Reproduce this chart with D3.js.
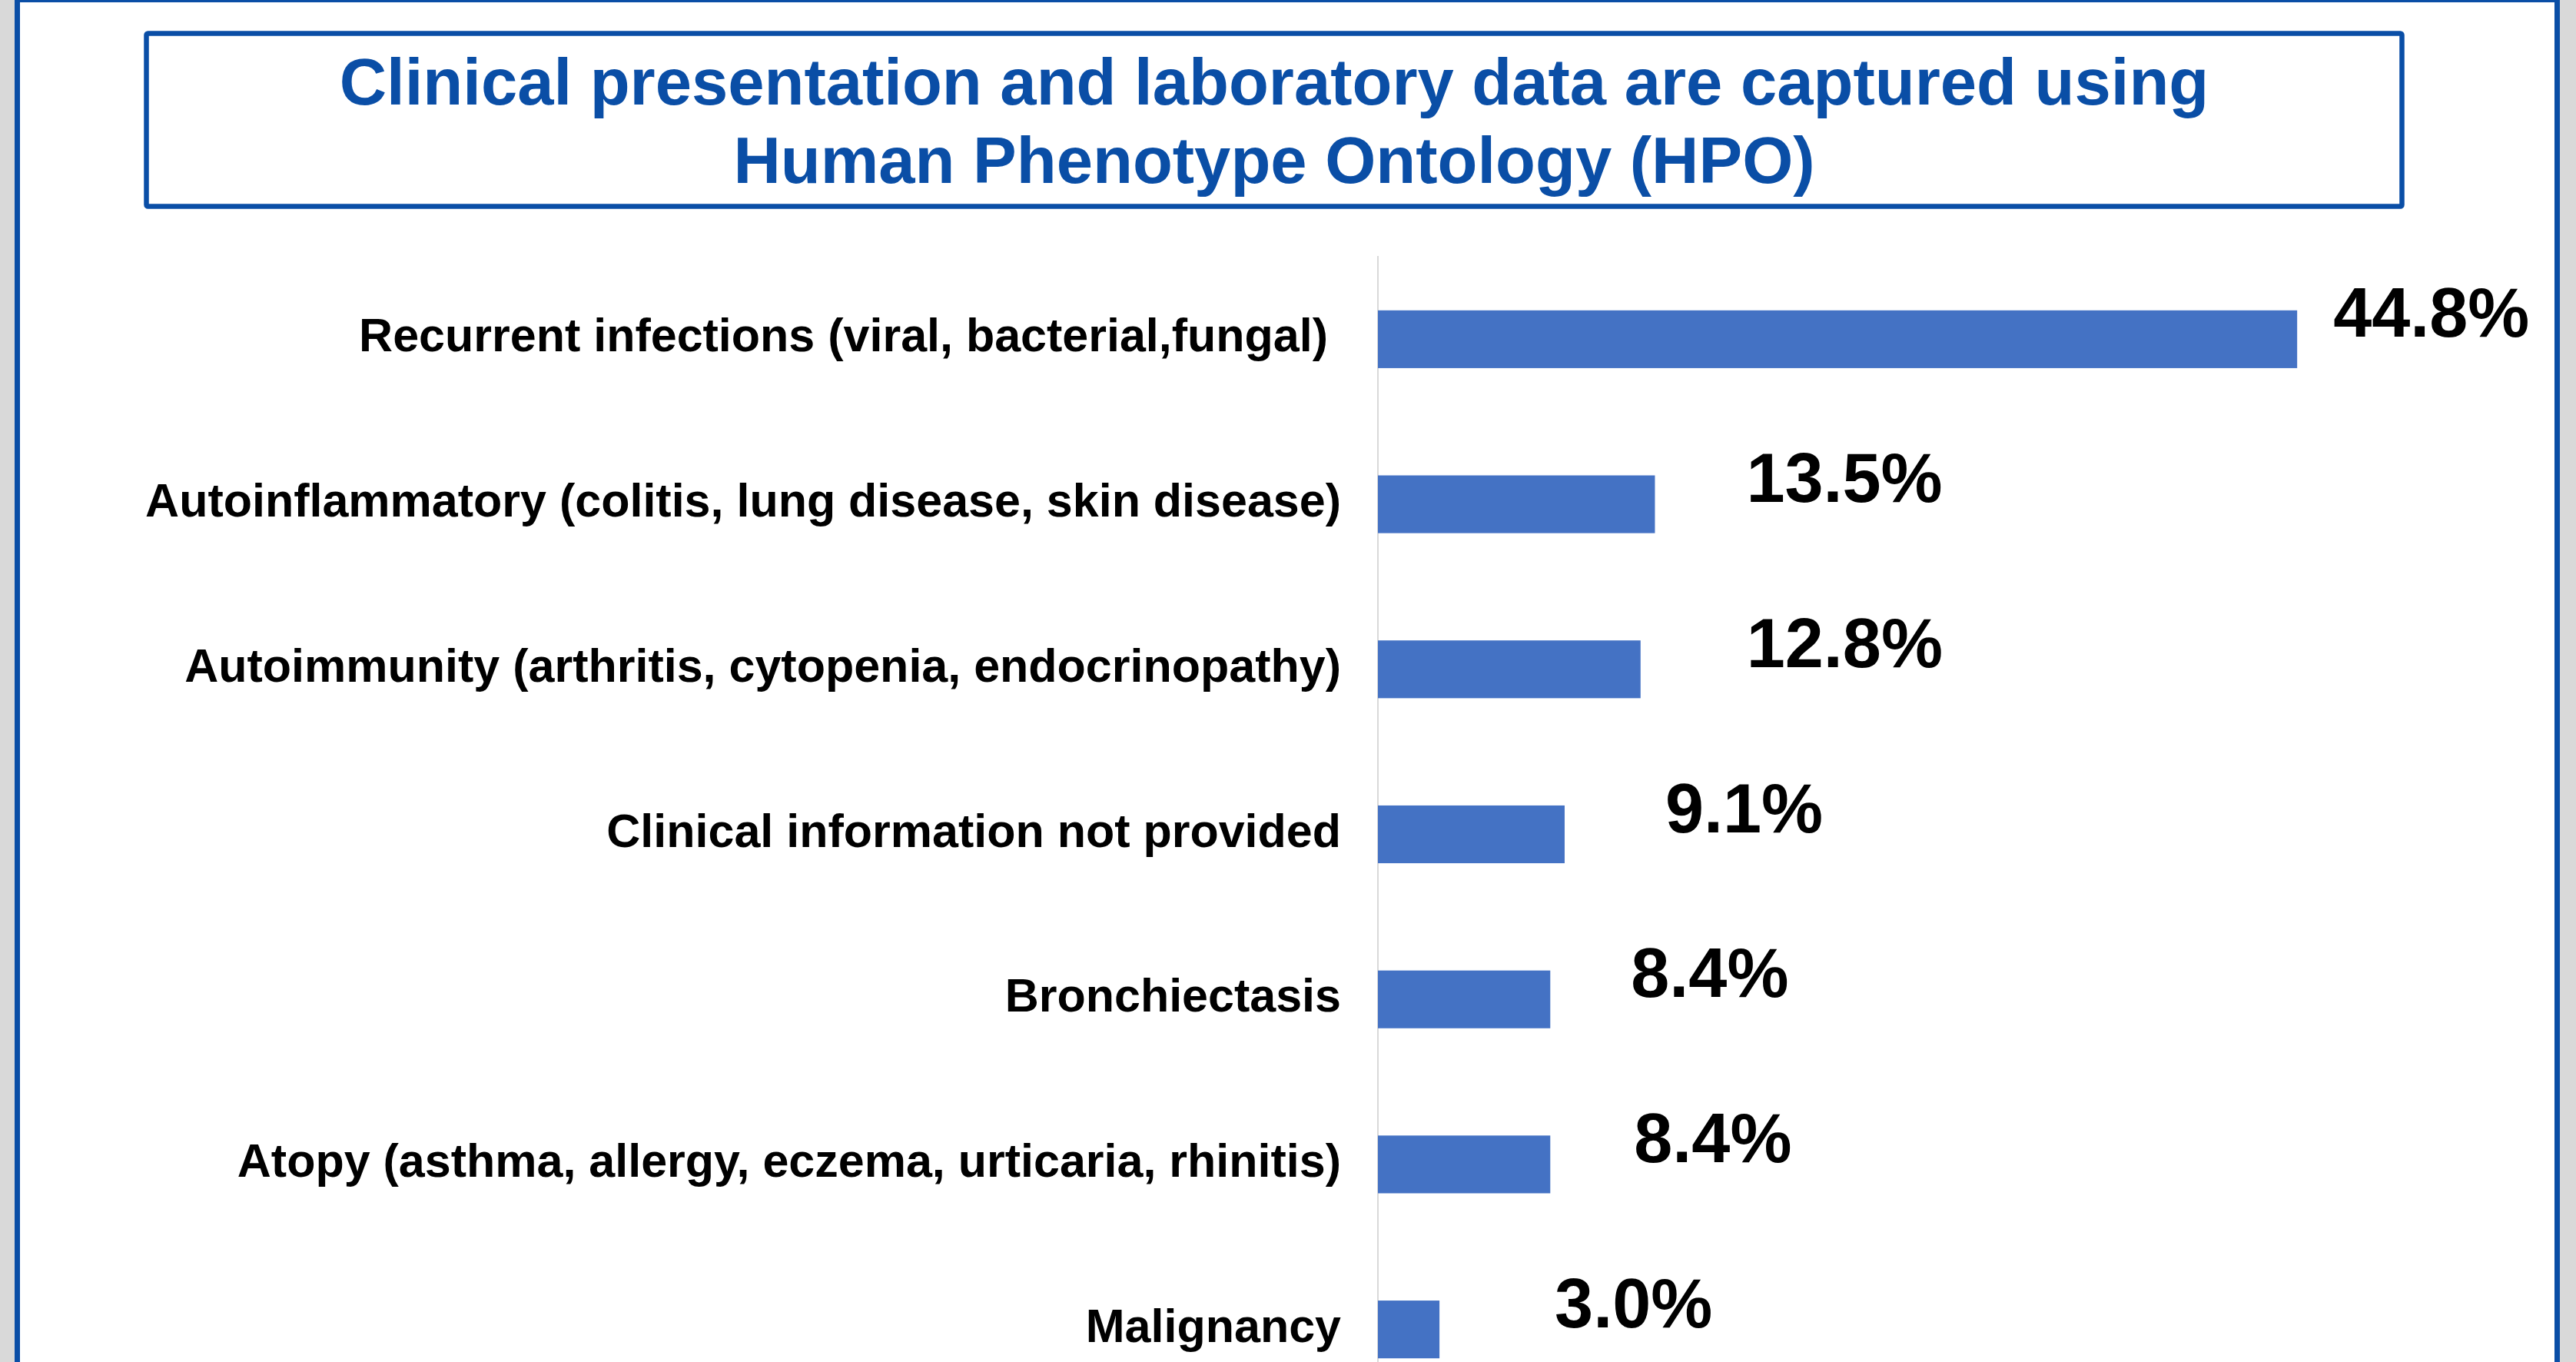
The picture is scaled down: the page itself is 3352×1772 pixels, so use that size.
<!DOCTYPE html>
<html>
<head>
<meta charset="utf-8">
<script src="https://cdn.jsdelivr.net/npm/d3@7"></script>
<style>
  html, body { margin: 0; padding: 0; background: #d9d9d9; }
  svg { display: block; }
  text { font-family: "Liberation Sans", Arial, Helvetica, sans-serif; font-weight: bold; white-space: pre; }
</style>
</head>
<body>
<div id="chart"></div>
<script>
// chart data
var categories = [
  'Recurrent infections (viral, bacterial,fungal) ',
  'Autoinflammatory (colitis, lung disease, skin disease)',
  'Autoimmunity (arthritis, cytopenia, endocrinopathy)',
  'Clinical information not provided',
  'Bronchiectasis',
  'Atopy (asthma, allergy, eczema, urticaria, rhinitis)',
  'Malignancy'
];
var percents = [44.8, 13.5, 12.8, 9.1, 8.4, 8.4, 3.0];
var valueLabels = ['44.8%', '13.5%', '12.8%', '9.1%', '8.4%', '8.4%', '3.0%'];
var titleLines = [
  'Clinical presentation and laboratory data are captured using',
  'Human Phenotype Ontology (HPO)'
];

var width = 3352;
var height = 1772;
var blue = '#0a4ea6';

var svg = d3.select('#chart')
  .append('svg')
  .attr('width', width)
  .attr('height', height);

// slide background + frame
svg.append('rect')
  .attr('x', 19).attr('y', 0)
  .attr('width', 3312).attr('height', height)
  .attr('fill', '#ffffff');
svg.append('rect')
  .attr('x', 22.5).attr('y', -0.5)
  .attr('width', 3305).attr('height', height + 20)
  .attr('fill', 'none')
  .attr('stroke', blue)
  .attr('stroke-width', 7);

// title box
svg.append('rect')
  .attr('x', 190.5).attr('y', 43.5)
  .attr('width', 2935).attr('height', 225)
  .attr('rx', 2)
  .attr('fill', 'none')
  .attr('stroke', blue)
  .attr('stroke-width', 6.5);

svg.selectAll('text.title')
  .data(titleLines)
  .enter()
  .append('text')
  .attr('class', 'title')
  .attr('x', 1658)
  .attr('y', function (d, i) { return 136 + i * 102; })
  .attr('text-anchor', 'middle')
  .attr('fill', blue)
  .style('font-size', '85px')
  .text(function (d) { return d; });

// scales
var x = d3.scaleLinear()
  .domain([0, 50])
  .range([1793, 3128]);

var y = d3.scaleBand()
  .domain(categories)
  .range([334, 1837])
  .paddingInner(0.65)
  .paddingOuter(0.325);

// axis (category line only, no ticks)
var yAxis = d3.axisLeft(y).tickSize(0).tickPadding(48);
var axisG = svg.append('g')
  .attr('transform', 'translate(' + x(0) + ',0)')
  .call(yAxis);
axisG.select('.domain')
  .attr('stroke', '#d9d9d9')
  .attr('stroke-width', 2)
  .attr('d', 'M0,333V' + (height + 10));
axisG.selectAll('.tick text')
  .attr('fill', '#000')
  .attr('dy', 16)
  .style('font-size', '61px')
  .style('font-family', '"Liberation Sans", Arial, sans-serif')
  .style('font-weight', 'bold');

// bars
svg.selectAll('rect.bar')
  .data(percents)
  .enter()
  .append('rect')
  .attr('class', 'bar')
  .attr('x', x(0))
  .attr('y', function (d, i) { return y(categories[i]); })
  .attr('width', function (d) { return x(d) - x(0); })
  .attr('height', y.bandwidth())
  .attr('fill', '#4472c4');

// data labels were dragged by hand in the original, so nudge them a bit
var labelNudge = [47, 119, 138, 131, 105, 109, 150];
svg.selectAll('text.value')
  .data(percents)
  .enter()
  .append('text')
  .attr('class', 'value')
  .attr('x', function (d, i) { return x(d) + labelNudge[i]; })
  .attr('y', function (d, i) { return y(categories[i]) + y.bandwidth() / 2 - 3; })
  .attr('fill', '#000')
  .style('font-size', '90px')
  .text(function (d, i) { return valueLabels[i]; });
</script>
</body>
</html>
